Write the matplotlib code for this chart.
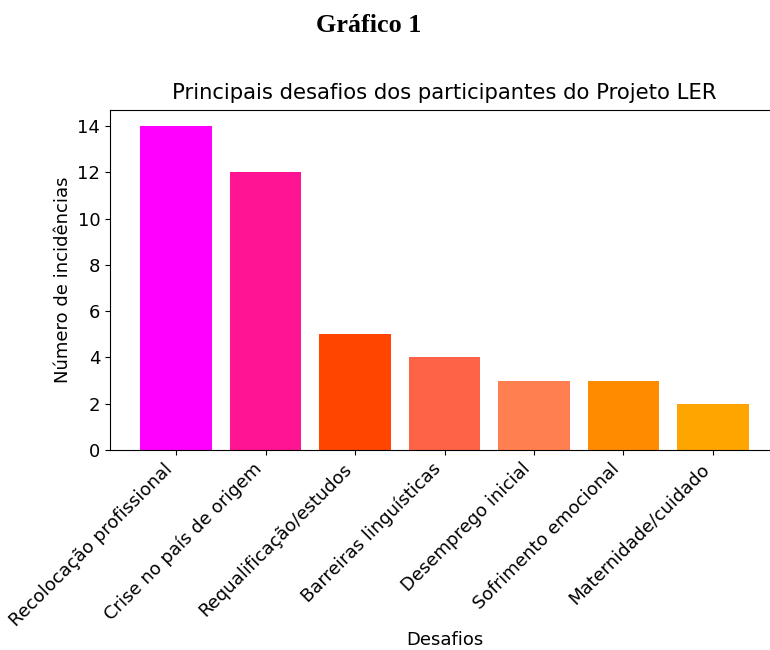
import matplotlib
matplotlib.use('Agg')
from matplotlib import pyplot as plt

desafios = ['Recolocação profissional', 'Crise no país de origem', 'Requalificação/estudos',
            'Barreiras linguísticas', 'Desemprego inicial', 'Sofrimento emocional',
            'Maternidade/cuidado']
incidencias = [14, 12, 5, 4, 3, 3, 2]
cores = ['magenta', 'deeppink', 'orangered', 'tomato', 'coral', 'darkorange', 'orange']

plt.rcParams['font.family'] = ['DejaVu Sans']

fig = plt.figure(figsize=(7.7, 6.5), dpi=100)
# axes runs past the right edge, like the cropped original
ax = fig.add_axes([110/770, 200/650, 669/770, 340/650])

ax.bar(range(len(desafios)), incidencias, color=cores)
ax.set_xticks(range(len(desafios)))
ax.set_xticklabels(desafios, rotation=45, ha='right', fontsize=13)
ax.tick_params(axis='y', labelsize=13)
ax.set_ylabel('Número de incidências', fontsize=13)
ax.set_xlabel('Desafios', fontsize=13, labelpad=1)
ax.set_title('Principais desafios dos participantes do Projeto LER', fontsize=15.2, pad=8)

fig.text(369/770, 1 - 25/650, 'Gráfico 1', family='Liberation Serif', fontweight='bold',
         fontsize=18.8, ha='center', va='center')

plt.savefig('out.png', dpi=100)
